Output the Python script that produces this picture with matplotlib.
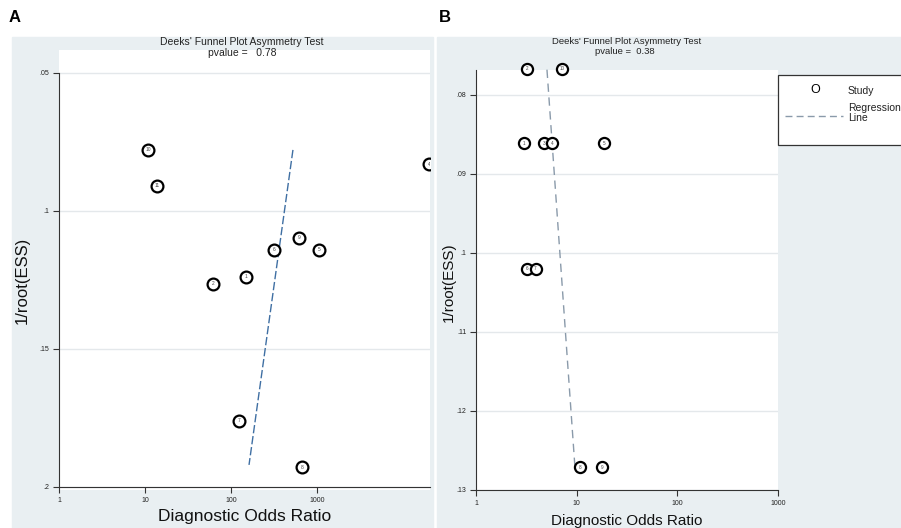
import numpy as np
import matplotlib.pyplot as plt
from matplotlib.patches import Rectangle
from matplotlib.lines import Line2D

plt.rcParams['font.family'] = ['Liberation Sans', 'DejaVu Sans']

# Panel A: Deeks' funnel plot
a_study = ["10", "11", "4", "9", "6", "5", "1", "2", "7", "8"]
a_dor = [10.8, 13.8, 20000, 619, 316, 1050, 149, 62, 124, 670]
a_ess = [0.0779, 0.0909, 0.0830, 0.1098, 0.1141, 0.1141, 0.1239, 0.1264, 0.1760, 0.1928]
a_reg_dor = [525, 162]
a_reg_ess = [0.0779, 0.1920]
a_pvalue = "0.78"

# Panel B
b_study = ["2", "10", "1", "3", "4", "5", "6", "7", "8", "9"]
b_dor = [3.2, 7.1, 3.0, 4.7, 5.7, 18.7, 3.2, 3.9, 10.8, 17.8]
b_ess = [0.0767, 0.0767, 0.0861, 0.0861, 0.0861, 0.0861, 0.1020, 0.1020, 0.1271, 0.1271]
b_reg_dor = [5.07, 9.6]
b_reg_ess = [0.0768, 0.127]
b_pvalue = "0.38"

W, H = 901, 528
fig = plt.figure(figsize=(W / 100, H / 100), dpi=100)
fig.patch.set_facecolor("white")

bg = "#e9eff2"


def rect(x0, y0, x1, y1):
    return [x0 / W, 1 - y1 / H, (x1 - x0) / W, (y1 - y0) / H]


def fx(x):
    return x / W


def fy(y):
    return 1 - y / H


fig.patches.append(Rectangle((fx(12), fy(528)), (433 - 12) / W, (528 - 37) / H,
                             transform=fig.transFigure, color=bg, zorder=-1))
fig.patches.append(Rectangle((fx(437), fy(528)), (901 - 437) / W, (528 - 37) / H,
                             transform=fig.transFigure, color=bg, zorder=-1))


def setup(ax, yticks, ylabels, xlim, ylim, bottom_y, left_bounds):
    ax.set_zorder(1)
    ax.set_xscale("log")
    ax.set_xlim(*xlim)
    ax.set_ylim(*ylim)
    ax.set_facecolor("white")
    for s in ["top", "right"]:
        ax.spines[s].set_visible(False)
    ax.spines["left"].set_color("#333333")
    ax.spines["bottom"].set_color("#333333")
    ax.spines["left"].set_linewidth(0.8)
    ax.spines["bottom"].set_linewidth(0.8)
    ax.spines["bottom"].set_position(("data", bottom_y))
    ax.spines["left"].set_bounds(*left_bounds)
    ax.set_yticks(yticks)
    ax.set_yticklabels(ylabels)
    ax.set_xticks([1, 10, 100, 1000])
    ax.set_xticklabels(["1", "10", "100", "1000"])
    ax.minorticks_off()
    ax.tick_params(axis="both", labelsize=5, length=4, width=0.8, color="#333333",
                   labelcolor="#222222", pad=3)
    for t in yticks:
        ax.axhline(t, color="#e4e8eb", lw=1, zorder=0)


# ---- Panel A ----
axA = fig.add_axes(rect(59, 50, 430, 490))
setup(axA, [0.05, 0.1, 0.15, 0.2], [".05", ".1", ".15", ".2"],
      (1, 20600), (0.2011, 0.0417), 0.2, (0.05, 0.2))
axA.plot(a_reg_dor, a_reg_ess, ls=(0, (6, 2)), color="#3f6fa3", lw=1, zorder=2)
axA.plot(a_dor, a_ess, "o", ms=8.5, mfc="white", mec="black", mew=1.6, zorder=3)
for s, x, y in zip(a_study, a_dor, a_ess):
    axA.text(x, y, s, fontsize=3.5, ha="center", va="center", color="#444444", zorder=4,
             clip_on=True)

fig.text(fx(242), fy(42), "Deeks' Funnel Plot Asymmetry Test", ha="center", va="center",
         fontsize=7.5, color="#222222")
fig.text(fx(242), fy(53), "pvalue =   " + a_pvalue, ha="center", va="center",
         fontsize=7.5, color="#222222")
fig.text(fx(22), fy(280), "1/root(ESS)", rotation=90, ha="center", va="center",
         fontsize=12, color="#111111")
fig.text(fx(245), fy(516), "Diagnostic Odds Ratio", ha="center", va="center",
         fontsize=12.5, color="#111111")
fig.text(fx(9), fy(18), "A", ha="left", va="center", fontsize=12, fontweight="bold")

# ---- Panel B ----
axB = fig.add_axes(rect(476, 70, 778, 490))
setup(axB, [0.08, 0.09, 0.1, 0.11, 0.12, 0.13], [".08", ".09", ".1", ".11", ".12", ".13"],
      (1, 1000), (0.13, 0.07684), 0.13, (0.07684, 0.13))
axB.plot(b_reg_dor, b_reg_ess, ls=(0, (6, 4)), color="#8a9aaa", lw=1, zorder=2,
         clip_on=False)
axB.plot(b_dor, b_ess, "o", ms=8, mfc="white", mec="black", mew=1.6, zorder=3,
         clip_on=False)
for s, x, y in zip(b_study, b_dor, b_ess):
    axB.text(x, y, s, fontsize=3.3, ha="center", va="center", color="#444444", zorder=4)

fig.text(fx(627), fy(41), "Deeks' Funnel Plot Asymmetry Test", ha="center", va="center",
         fontsize=6.8, color="#222222")
fig.text(fx(625), fy(51), "pvalue =  " + b_pvalue, ha="center", va="center",
         fontsize=6.8, color="#222222")
fig.text(fx(449), fy(282), "1/root(ESS)", rotation=90, ha="center", va="center",
         fontsize=11, color="#111111")
fig.text(fx(627), fy(521), "Diagnostic Odds Ratio", ha="center", va="center",
         fontsize=11, color="#111111")
fig.text(fx(439), fy(18), "B", ha="left", va="center", fontsize=12, fontweight="bold")

# legend box (Stata style)
fig.patches.append(Rectangle((fx(778), fy(145)), (910 - 778) / W, (145 - 75) / H,
                             transform=fig.transFigure, facecolor="white",
                             edgecolor="#333333", lw=0.9, zorder=5))
fig.text(fx(815), fy(90), "O", ha="center", va="center", fontsize=9, zorder=6)
fig.text(fx(848), fy(91), "Study", ha="left", va="center", fontsize=7.5, zorder=6,
         color="#222222")
fig.lines.append(Line2D([fx(785), fx(843)], [fy(116), fy(116)], transform=fig.transFigure,
                        ls=(0, (5, 3)), color="#8a9aaa", lw=1, zorder=6))
fig.text(fx(848), fy(113), "Regression\nLine", ha="left", va="center", fontsize=7.5,
         linespacing=0.95, zorder=6, color="#222222")

plt.savefig("out.png", dpi=100)
